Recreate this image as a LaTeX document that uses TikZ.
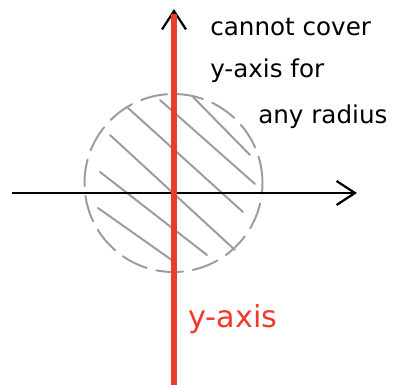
\documentclass[tikz,border=0pt]{standalone}
\usepackage{fontspec}
\usepackage{xcolor}
\usepackage{tikz}
\usetikzlibrary{arrows.meta,positioning}
\newfontfamily\notefont{DejaVu Sans}
\definecolor{axisred}{HTML}{EE3A2B}
\definecolor{hatchgray}{HTML}{9C9C9C}
\tikzset{
  axis/.style={line width=2pt,black,-{Straight Barb[length=4.6mm,width=6mm,line width=1.6pt]}},
  hatch/.style={line width=1.4pt,hatchgray,line cap=round},
  ring/.style={line width=1.4pt,hatchgray,dash pattern=on 19pt off 7pt,line cap=round},
  note/.style={font=\notefont\fontsize{17.5}{20}\selectfont,inner sep=0pt,anchor=base west}
}

\begin{document}
\begin{tikzpicture}[x=0.025cm,y=0.025cm]
\useasboundingbox (-174,-191) rectangle (221,193);
\coordinate (O) at (0,0);
\coordinate (xl) at (-162,0);
\coordinate (xr) at (183,0);
\coordinate (yb) at (0,-192);
\coordinate (yt) at (0,184);
\coordinate (ytr) at (0,179);
% dashed disc and its hatching
\draw[ring] (-0.5,10) circle (89);
\draw[hatch] (19,96)--(76,38);
\draw[hatch] (-14,93)--(81,9);
\draw[hatch] (-46,85)--(69,-19);
\draw[hatch] (-64,58)--(61,-57);
\draw[hatch] (-74,21)--(33,-62);
\draw[hatch] (-76,-15)--(2,-70);
% axes
\draw[axis] (xl)--(xr);
\draw[axis] (yb)--(yt);
\draw[line width=3.6pt,axisred] (yb)--(ytr);
% texts
\node[note] (note1) at (36,158) {cannot cover};
\node[note] (note2) at (36,116) {y-axis for};
\node[note] (note3) at (84,70) {any radius};
\node[note,text=axisred,font=\notefont\fontsize{21.5}{24}\selectfont] (ylab) at (14,-134) {y-axis};
\end{tikzpicture}
\end{document}
